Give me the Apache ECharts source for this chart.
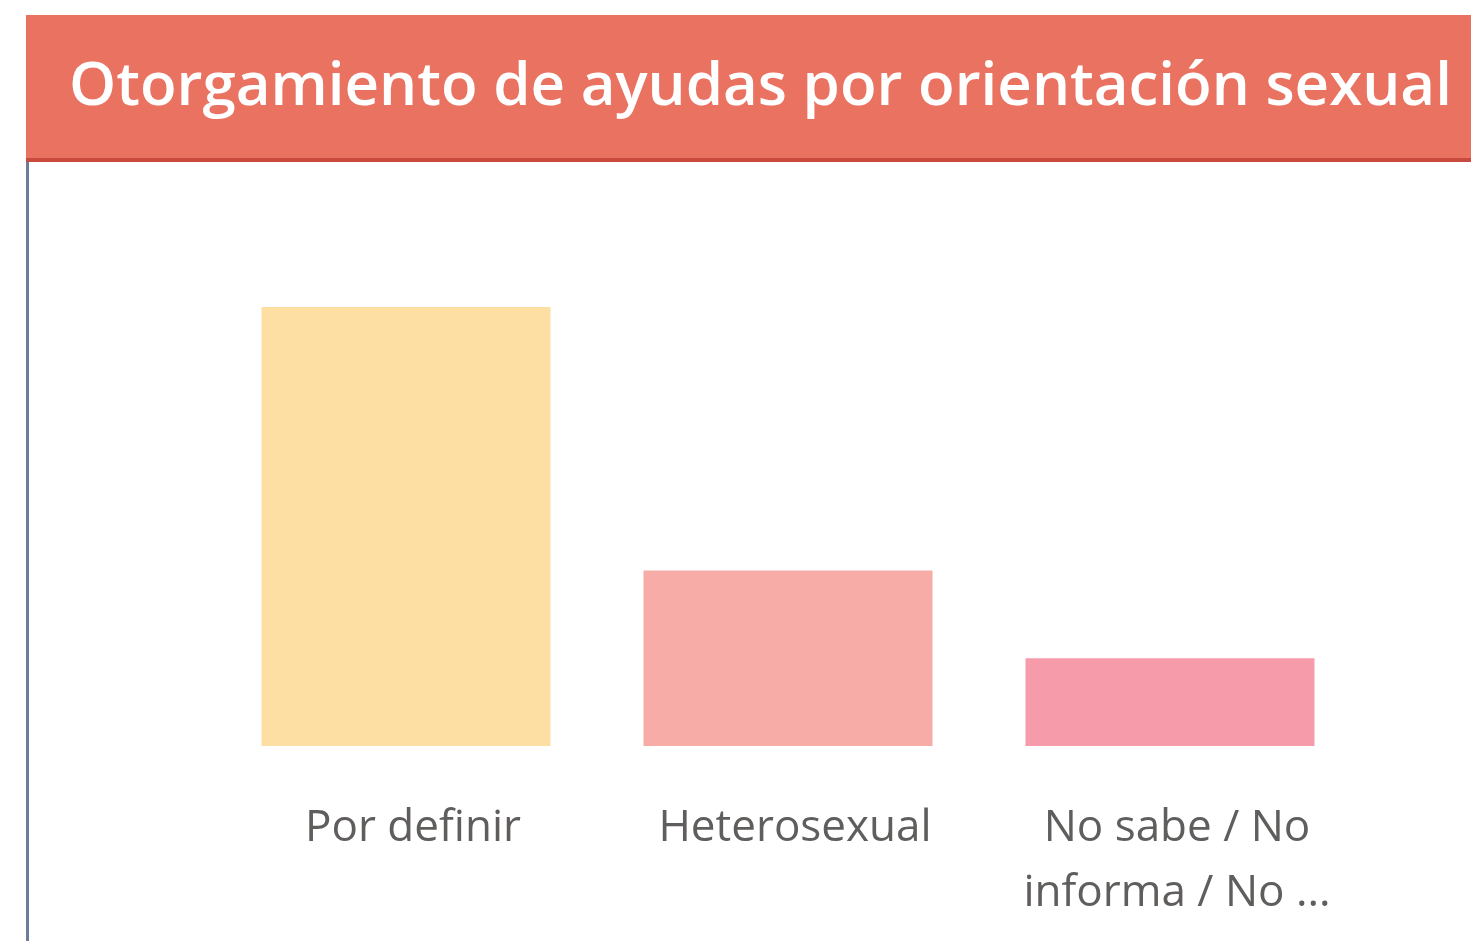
<!DOCTYPE html>
<html>
<head>
<meta charset="utf-8">
<script src="https://cdn.jsdelivr.net/npm/echarts@6/dist/echarts.min.js"></script>
<style>
  html, body { margin: 0; padding: 0; background: #fff; }
  #chart { width: 1471px; height: 941px; }
</style>
</head>
<body>
<div id="chart"></div>
<script>
const categories = ['Por definir', 'Heterosexual', 'No sabe / No\ninforma / No ...']
const values = [5, 2, 1]
const barColors = ['#FDDFA3', '#F7ACA8', '#F59BAA']

const chart = echarts.init(document.getElementById('chart'))

chart.setOption({
  animation: false,
  title: {
    text: 'Otorgamiento de ayudas por orientación sexual',
    left: 64,
    top: 53,
    textStyle: {
      color: '#fff',
      fontFamily: 'Open Sans',
      fontWeight: 600,
      fontSize: 60
    }
  },
  graphic: [
    { type: 'rect', z: -1, shape: { x: 26, y: 15, width: 1445, height: 143 }, style: { fill: '#EA7261' } },
    { type: 'rect', z: -1, shape: { x: 26, y: 158, width: 1445, height: 4 }, style: { fill: '#C94B40' } },
    { type: 'rect', z: -1, shape: { x: 26, y: 162, width: 3, height: 779 }, style: { fill: '#6E7B99' } }
  ],
  grid: { left: 215, right: 110, top: 307, bottom: 195 },
  xAxis: {
    type: 'category',
    data: categories,
    axisLine: { show: false },
    axisTick: { show: false },
    axisLabel: {
      interval: 0,
      margin: 50,
      color: '#605E5C',
      fontFamily: 'Open Sans',
      fontSize: 44,
      lineHeight: 65,
      padding: [0, 0, 0, 14]
    }
  },
  yAxis: { type: 'value', min: 0, max: 5, show: false, splitLine: { show: false } },
  series: [{
    type: 'bar',
    data: values.map((v, i) => ({ value: v, itemStyle: { color: barColors[i] } })),
    barWidth: 289
  }]
})
</script>
</body>
</html>
